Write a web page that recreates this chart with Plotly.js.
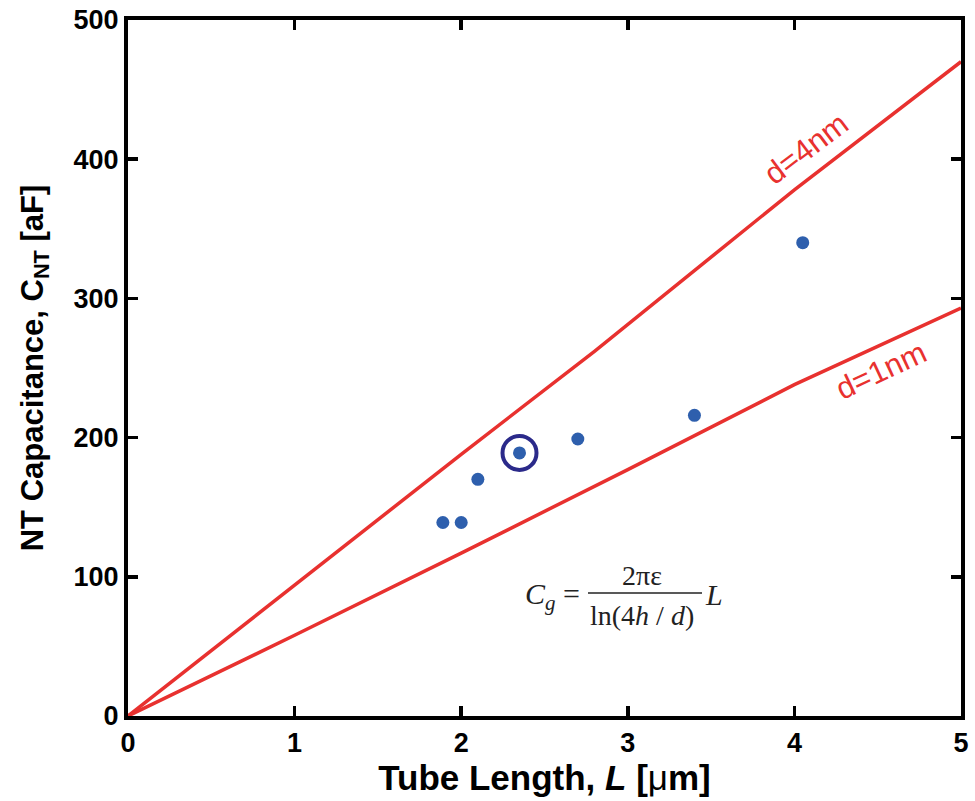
<!DOCTYPE html>
<html><head><meta charset="utf-8">
<script src="https://cdn.plot.ly/plotly-3.0.1.min.js"></script>
<style>body{margin:0;background:#fff}</style>
</head><body>
<div id="chart" style="width:975px;height:801px"></div>
<script>
// Measured data
const lengthUm = [1.89, 2.0, 2.1, 2.35, 2.7, 3.4, 4.05];
const capAF = [139, 139, 170, 189, 199, 216, 340];
// Highlighted (circled) point
const circledL = [2.35];
const circledC = [189];
// Model curves
const d4L = [0, 0.8, 2, 2.8, 4, 5];
const d4C = [0, 75, 188, 262, 378, 470];
const d1L = [0, 1, 2, 3, 4, 5];
const d1C = [0, 58, 117, 177, 238, 293];

const red = '#e8312f';
const traces = [
  {x: d4L, y: d4C, mode: 'lines', line: {color: red, width: 3.5}, hoverinfo: 'skip'},
  {x: d1L, y: d1C, mode: 'lines', line: {color: red, width: 3.5}, hoverinfo: 'skip'},
  {x: lengthUm, y: capAF, mode: 'markers', marker: {color: '#2e5fad', size: 13}},
  {x: circledL, y: circledC, mode: 'markers', marker: {color: 'rgba(0,0,0,0)', size: 34, line: {color: '#2b2a8a', width: 4}}}
];

const narrow = 'Liberation Sans Narrow, Arial Narrow, Liberation Sans, sans-serif';
const sans = 'Liberation Sans, Arial, sans-serif';
const axisCommon = {
  showline: true, linecolor: '#000', linewidth: 4, mirror: 'ticks',
  ticks: 'inside', ticklen: 10, tickwidth: 3.5, tickcolor: '#000',
  showgrid: false, zeroline: false,
  tickfont: {family: narrow, size: 27, color: '#000', weight: 'bold'}
};
const layout = {
  width: 975, height: 801,
  margin: {l: 128, r: 14, t: 20, b: 85},
  paper_bgcolor: '#fff', plot_bgcolor: '#fff',
  showlegend: false,
  xaxis: Object.assign({}, axisCommon, {
    range: [0, 5], dtick: 1,
    title: {text: '<b>Tube Length, <i>L</i> [</b>μ<b>m]</b>', standoff: 4,
      font: {family: narrow, size: 35, color: '#000'}}
  }),
  yaxis: Object.assign({}, axisCommon, {
    range: [0, 500], dtick: 100,
    title: {text: '<b>NT Capacitance, C<sub>NT</sub> [aF]</b>', standoff: 22,
      font: {family: sans, size: 31, color: '#000'}}
  }),
  annotations: [],
  shapes: []
};
const W = 975 - 128 - 14, H = 801 - 20 - 85;
function px(x){return (x-128)/W;}
function py(y){return (716-y)/H;}
const ff = 'Liberation Serif, Times New Roman, serif';
function ann(x, y, text, size, fam, color, angle){
  layout.annotations.push({x: px(x), y: py(y), xref: 'paper', yref: 'paper', xanchor: 'center', yanchor: 'middle',
    text: text, showarrow: false, textangle: angle || 0, font: {family: fam, size: size, color: color}});
}
ann(806, 148, 'd=4nm', 31, sans, red, -37);
ann(881, 370, 'd=1nm', 31, sans, red, -25);
ann(552, 596, '<i>C</i><sub><i>g</i></sub> =', 30, ff, '#222');
ann(642, 575, '2πε', 28, ff, '#222');
ann(642, 615, 'ln(4<i>h</i> / <i>d</i>)', 28, ff, '#222');
ann(714, 594, '<i>L</i>', 30, ff, '#222');
layout.shapes.push({type: 'line', xref: 'paper', yref: 'paper', x0: px(588), x1: px(702), y0: py(593), y1: py(593), line: {color: '#222', width: 1.5}});

Plotly.newPlot('chart', traces, layout, {displayModeBar: false, staticPlot: true});
</script>
</body></html>
